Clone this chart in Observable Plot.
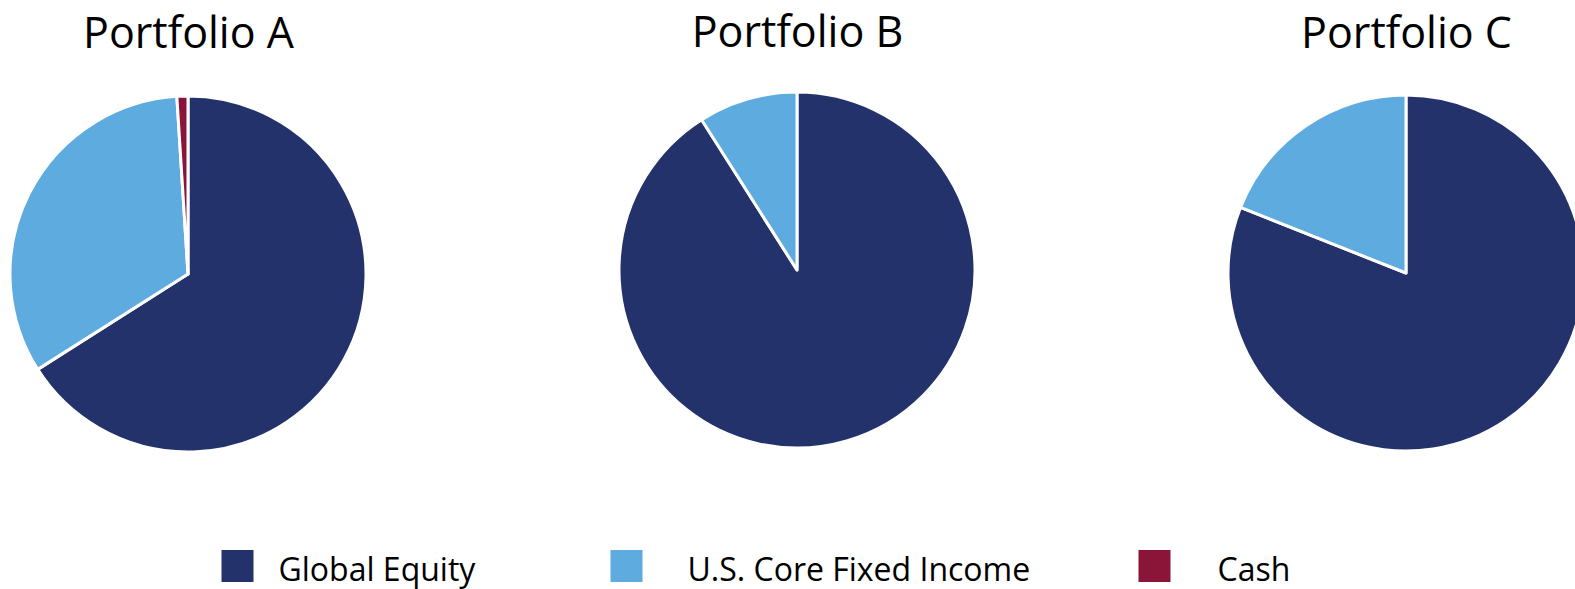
<!DOCTYPE html>
<html>
<head>
<meta charset="utf-8">
<script src="https://cdn.jsdelivr.net/npm/d3@7"></script>
<script src="https://cdn.jsdelivr.net/npm/@observablehq/plot@0.6"></script>
<style>
  html, body { margin: 0; padding: 0; background: #fff; }
  #chart svg { display: block; }
</style>
</head>
<body>
<div id="chart"></div>
<script>
// ---- data ----
const portfolios = ["Portfolio A", "Portfolio B", "Portfolio C"];
const categories = ["Global Equity", "U.S. Core Fixed Income", "Cash"];
const globalEquity = [66, 91, 81];
const usCoreFixedIncome = [33, 9, 19];
const cash = [1, 0, 0];
const series = [globalEquity, usCoreFixedIncome, cash];

// ---- style / layout ----
const colors = ["#23326B", "#5EACDF", "#8A1538"];
const W = 1575, H = 589;
const R = 178;
const pieCY = [274, 270, 273];
const titleBaseline = [47, 46, 47];
const legendBoxX = [237, 626, 1154];
const legendTextX = [278, 687, 1217];
const FONT = "'Open Sans', 'Lato', sans-serif";

function pieMark(index, scales) {
  const color = scales.color ?? (c => colors[categories.indexOf(c)]);
  const g = d3.create("svg:g");
  const arc = d3.arc().innerRadius(0).outerRadius(R);
  portfolios.forEach((p, i) => {
    const slices = categories.map((c, j) => ({category: c, value: series[j][i]}));
    const arcs = d3.pie().sort(null).value(d => d.value)(slices).filter(a => a.data.value > 0);
    g.append("g")
      .attr("transform", `translate(${scales.x(p)},${pieCY[i]})`)
      .selectAll("path")
      .data(arcs)
      .join("path")
      .attr("d", arc)
      .attr("fill", a => color(a.data.category))
      .attr("stroke", "white")
      .attr("stroke-width", 3)
      .attr("stroke-linejoin", "round");
  });
  return g.node();
}

const chart = Plot.plot({
  width: W,
  height: H,
  margin: 0,
  x: {type: "point", domain: portfolios, range: [188, 1406], padding: 0, axis: null},
  y: {axis: null},
  color: {domain: categories, range: colors},
  style: {fontFamily: FONT, background: "white", color: "#000"},
  marks: [
    pieMark,
    ...portfolios.map((p, i) => Plot.text([p], {
      x: d => d, text: d => d, frameAnchor: "top", dy: titleBaseline[i],
      lineAnchor: "bottom", fontSize: 43, fill: "#000"
    })),
    ...categories.map((c, i) => Plot.dot([c], {
      frameAnchor: "top-left", dx: legendBoxX[i], dy: 565.5,
      symbol: "square", r: 32 / Math.sqrt(Math.PI), fill: d => d, stroke: null
    })),
    ...categories.map((c, i) => Plot.text([c], {
      frameAnchor: "top-left", dx: legendTextX[i], dy: 580.5,
      text: d => d, textAnchor: "start", lineAnchor: "bottom",
      fontSize: 32, fill: "#000"
    }))
  ]
});
document.getElementById("chart").appendChild(chart);
</script>
</body>
</html>
